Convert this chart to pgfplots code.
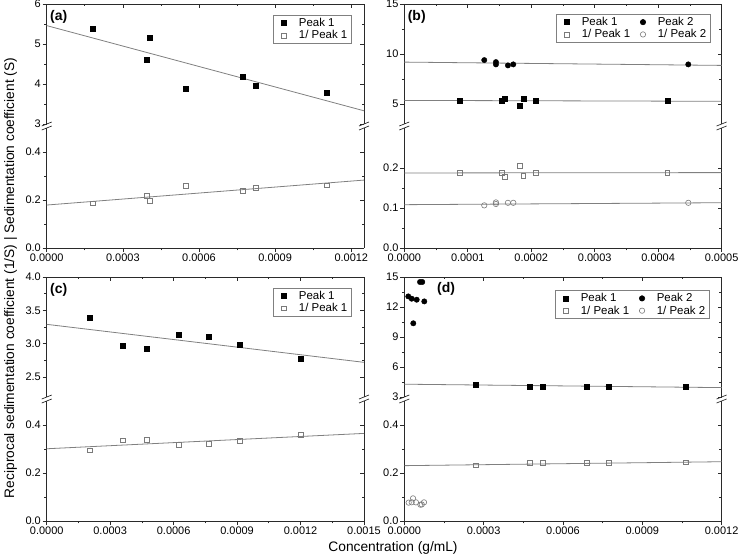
\documentclass[border=0pt]{standalone}
\usepackage{fontspec}
\setmainfont{Liberation Sans}
\usepackage{pgfplots}
\pgfplotsset{compat=1.18}

\definecolor{fitgray}{HTML}{808080}
\definecolor{opengray}{HTML}{7A7A7A}
\definecolor{axcol}{HTML}{2A2A2A}

\pgfplotsset{
  base/.style={
    scale only axis, width=317.3bp, height=120bp,
    anchor=north west,
    enlargelimits=false,
    axis line style={axcol, line width=0.8bp},
    tick style={axcol, line width=0.7bp},
    major tick length=4bp, minor tick length=2.4bp,
    tick align=center,
    every major x tick/.append style={yshift=-2bp},
    every minor x tick/.append style={yshift=-1.2bp},
    every major y tick/.append style={xshift=-2bp},
    every minor y tick/.append style={xshift=-1.2bp},
    minor tick num=1,
    scaled ticks=false,
    /pgf/number format/assume math mode=true,
    ticklabel style={font=\fontsize{11}{13}\selectfont, inner sep=1bp},
    xticklabel style={yshift=-2.7bp},
    yticklabel style={xshift=-2.7bp},
    clip=false,
    legend style={draw=fitgray, line width=0.6bp, font=\fontsize{11.5}{13}\selectfont,
      anchor=north east, inner xsep=2bp, inner ysep=1bp, cells={anchor=west},
      nodes={inner sep=2bp}, row sep=-1.5bp,
      /tikz/every even column/.append style={column sep=2bp}},
  },
  upper/.style={base, axis x line*=top, axis y line*=box, xticklabels={}},
  lower/.style={base, axis x line*=bottom, axis y line*=box,
    xticklabel style={/pgf/number format/.cd, fixed, fixed zerofill, precision=4, assume math mode=true},
    yticklabel style={/pgf/number format/.cd, fixed, fixed zerofill, precision=1, assume math mode=true}},
  myleg/.style={legend image code/.code={\path (0bp,0bp) (21bp,0bp); \draw[##1] plot coordinates {(8.5bp,0bp)};}},
  sqF/.style={only marks, mark=square*, mark size=2.5bp, black, mark options={fill=black}, myleg},
  ciF/.style={only marks, mark=*, mark size=2.7bp, black, mark options={fill=black}, myleg},
  sqO/.style={only marks, mark=square, mark size=2.4bp, opengray, mark options={line width=0.6bp}, myleg},
  ciO/.style={only marks, mark=o, mark size=2.7bp, opengray, mark options={line width=0.6bp}, myleg},
  fitl/.style={fitgray, line width=0.8bp, no marks, forget plot},
}
\newcommand{\upperbreak}{%
  \draw[axcol, line width=0.7bp] (rel axis cs:0,0) ++(-5bp,-2bp) -- ++(10bp,4bp);
  \draw[axcol, line width=0.7bp] (rel axis cs:1,0) ++(-5bp,-2bp) -- ++(10bp,4bp);}
\newcommand{\lowerbreak}{%
  \draw[axcol, line width=0.7bp] (rel axis cs:0,1) ++(-5bp,-2bp) -- ++(10bp,4bp);
  \draw[axcol, line width=0.7bp] (rel axis cs:1,1) ++(-5bp,-2bp) -- ++(10bp,4bp);}
\tikzset{plab/.style={anchor=north west, inner sep=0pt, font=\bfseries\fontsize{14}{16}\selectfont}}

\begin{document}
\begin{tikzpicture}
\useasboundingbox (0,0) rectangle (738bp,-558bp);

% ---------------- (a) upper
\begin{axis}[upper, at={(46.7bp,-4bp)}, xmin=0, xmax=0.00125, ymin=3, ymax=6,
  xtick={0,0.0003,0.0006,0.0009,0.0012}, ytick={3,4,5,6},
  legend style={at={(0.961,0.908)}}]
\addplot[sqF] coordinates {(0.000183,5.38) (0.000393,4.61) (0.000406,5.15) (0.000548,3.89) (0.000774,4.19) (0.000823,3.97) (0.001104,3.79)};
\addlegendentry{Peak 1}
\addlegendimage{sqO}
\addlegendentry{1/ Peak 1}
\addplot[fitl] coordinates {(0,5.46) (0.00125,3.33)};
\upperbreak
\node[plab] at (rel axis cs:0.0105,0.95) {(a)};
\end{axis}
% ---------------- (a) lower
\begin{axis}[lower, at={(46.7bp,-128bp)}, xmin=0, xmax=0.00125, ymin=0, ymax=0.5,
  xtick={0,0.0003,0.0006,0.0009,0.0012}, ytick={0,0.2,0.4}]
\addplot[sqO] coordinates {(0.000183,0.186) (0.000393,0.218) (0.000406,0.196) (0.000548,0.258) (0.000774,0.237) (0.000823,0.251) (0.001104,0.261)};
\addplot[fitl] coordinates {(0,0.179) (0.00125,0.283)};
\lowerbreak
\end{axis}

% ---------------- (b) upper
\begin{axis}[upper, at={(404.3bp,-4bp)}, xmin=0, xmax=0.0005, ymin=3, ymax=15,
  xtick={0,0.0001,0.0002,0.0003,0.0004,0.0005}, ytick={5,10,15},
  legend columns=2, legend style={at={(0.965,0.917)}}]
\addplot[sqF] coordinates {(0.0000877,5.30) (0.0001534,5.30) (0.0001586,5.57) (0.0001822,4.83) (0.0001875,5.50) (0.0002075,5.30) (0.0004144,5.30)};
\addlegendentry{Peak 1}
\addplot[ciF] coordinates {(0.000126,9.39) (0.0001444,9.19) (0.0001444,8.96) (0.0001633,8.86) (0.0001717,8.96) (0.0004475,8.96)};
\addlegendentry{Peak 2}
\addlegendimage{sqO}
\addlegendentry{1/ Peak 1}
\addlegendimage{ciO}
\addlegendentry{1/ Peak 2}
\addplot[fitl] coordinates {(0,5.36) (0.0005,5.27)};
\addplot[fitl] coordinates {(0,9.19) (0.0005,8.86)};
\upperbreak
\node[plab] at (rel axis cs:0.0105,0.95) {(b)};
\end{axis}
% ---------------- (b) lower
\begin{axis}[lower, at={(404.3bp,-128bp)}, xmin=0, xmax=0.0005, ymin=0, ymax=0.3,
  xtick={0,0.0001,0.0002,0.0003,0.0004,0.0005}, ytick={0,0.1,0.2}]
\addplot[sqO] coordinates {(0.0000877,0.1884) (0.0001534,0.1884) (0.0001586,0.1777) (0.0001822,0.2058) (0.0001875,0.1802) (0.0002075,0.1884) (0.0004144,0.1884)};
\addplot[ciO] coordinates {(0.000126,0.1066) (0.0001444,0.114) (0.0001444,0.110) (0.0001633,0.113) (0.0001717,0.113) (0.0004475,0.113)};
\addplot[fitl] coordinates {(0,0.1876) (0.0005,0.1885)};
\addplot[fitl] coordinates {(0,0.1083) (0.0005,0.1132)};
\lowerbreak
\end{axis}

% ---------------- (c) upper
\begin{axis}[upper, at={(46.7bp,-277bp)}, xmin=0, xmax=0.0015, ymin=2.2, ymax=4.0,
  xtick={0,0.0003,0.0006,0.0009,0.0012,0.0015}, ytick={2.5,3.0,3.5,4.0},
  yticklabel style={/pgf/number format/.cd, fixed, fixed zerofill, precision=1, assume math mode=true},
  legend style={at={(0.961,0.91)}}]
\addplot[sqF] coordinates {(0.000205,3.385) (0.000360,2.97) (0.000474,2.93) (0.000624,3.135) (0.000767,3.105) (0.000911,2.985) (0.0012,2.78)};
\addlegendentry{Peak 1}
\addlegendimage{sqO}
\addlegendentry{1/ Peak 1}
\addplot[fitl] coordinates {(0,3.29) (0.0015,2.72)};
\upperbreak
\node[plab] at (rel axis cs:0.0105,0.95) {(c)};
\end{axis}
% ---------------- (c) lower
\begin{axis}[lower, at={(46.7bp,-401bp)}, xmin=0, xmax=0.0015, ymin=0, ymax=0.5,
  xtick={0,0.0003,0.0006,0.0009,0.0012,0.0015}, ytick={0,0.2,0.4}]
\addplot[sqO] coordinates {(0.000205,0.295) (0.000360,0.336) (0.000474,0.340) (0.000624,0.3175) (0.000767,0.322) (0.000911,0.335) (0.0012,0.360)};
\addplot[fitl] coordinates {(0,0.301) (0.0015,0.365)};
\lowerbreak
\end{axis}

% ---------------- (d) upper
\begin{axis}[upper, at={(404.3bp,-277bp)}, xmin=0, xmax=0.0012, ymin=3, ymax=15,
  xtick={0,0.0003,0.0006,0.0009,0.0012}, ytick={3,6,9,12,15},
  legend columns=2, legend style={at={(0.962,0.89)}}]
\addplot[sqF] coordinates {(0.000271,4.27) (0.000475,4.07) (0.000523,4.07) (0.00069,4.07) (0.000774,4.07) (0.001064,4.07)};
\addlegendentry{Peak 1}
\addplot[ciF] coordinates {(0.0000151,13.06) (0.000028,12.83) (0.000034,10.37) (0.0000469,12.73) (0.0000594,14.5) (0.000068,14.5) (0.0000756,12.56)};
\addlegendentry{Peak 2}
\addlegendimage{sqO}
\addlegendentry{1/ Peak 1}
\addlegendimage{ciO}
\addlegendentry{1/ Peak 2}
\addplot[fitl] coordinates {(0,4.28) (0.0012,3.94)};
\upperbreak
\node[plab] at (rel axis cs:0.103,0.958) {(d)};
\end{axis}
% ---------------- (d) lower
\begin{axis}[lower, at={(404.3bp,-401bp)}, xmin=0, xmax=0.0012, ymin=0, ymax=0.5,
  xtick={0,0.0003,0.0006,0.0009,0.0012}, ytick={0,0.2,0.4}]
\addplot[sqO] coordinates {(0.000271,0.232) (0.000475,0.2417) (0.000523,0.2417) (0.00069,0.2417) (0.000774,0.2417) (0.001064,0.2444)};
\addplot[ciO] coordinates {(0.0000166,0.0766) (0.000028,0.078) (0.000033,0.0944) (0.000044,0.0778) (0.000061,0.068) (0.000066,0.069) (0.0000745,0.0778)};
\addplot[fitl] coordinates {(0,0.2306) (0.0012,0.247)};
\lowerbreak
\end{axis}

% axis titles
\node[rotate=90, font=\fontsize{13.8}{16}\selectfont] at (10.5bp,-278bp)
  {Reciprocal sedimentation coefficient (1/S) | Sedimentation coefficient (S)};
\node[font=\fontsize{13.8}{16}\selectfont] at (393bp,-548bp) {Concentration (g/mL)};
\end{tikzpicture}
\end{document}
